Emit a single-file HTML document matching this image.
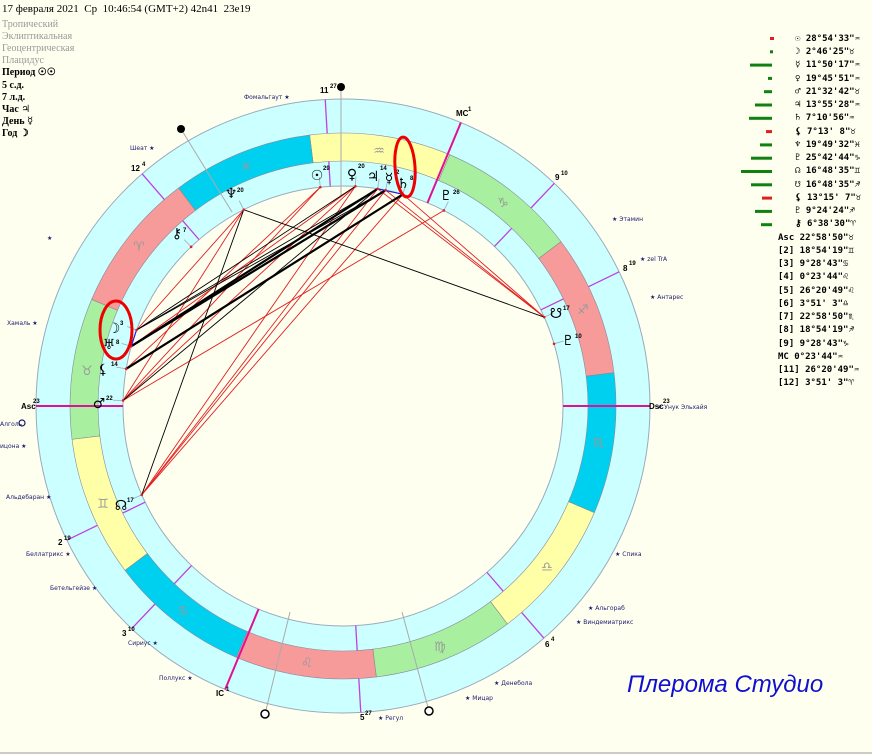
<!DOCTYPE html>
<html><head><meta charset="utf-8">
<style>
html,body{margin:0;padding:0;background:#fffff0;}
body{width:872px;height:755px;overflow:hidden;position:relative;font-family:"Liberation Serif","DejaVu Serif",serif;}
.t{position:absolute;left:2px;font-size:10px;line-height:12px;white-space:nowrap;}
.g{color:#999;}
.b{font-weight:bold;color:#000;}
svg{position:absolute;left:0;top:0;}
.sm{font-family:"Liberation Sans",sans-serif;font-size:6px;fill:#333;}
.hl{font-family:"Liberation Sans",sans-serif;font-size:8px;font-weight:bold;fill:#000;}
.sup{font-family:"Liberation Sans",sans-serif;font-size:6px;font-weight:bold;fill:#000;}
.pg{font-family:"DejaVu Sans",sans-serif;font-size:14px;fill:#000;}
.sg{font-family:"DejaVu Sans",sans-serif;font-size:13px;fill:#999;}
.st{fill:#1a1a6e;font-family:"DejaVu Sans",sans-serif;font-size:6px;}
.lst{font-family:"DejaVu Sans Mono","Liberation Mono",monospace;font-size:9px;font-weight:bold;fill:#000;}
</style></head><body>
<div class="t" style="top:3px;font-size:11px;">17 февраля 2021&nbsp; Ср&nbsp; 10:46:54 (GMT+2) 42n41&nbsp; 23e19</div>
<div class="t g" style="top:19px">Тропический</div>
<div class="t g" style="top:31px">Эклиптикальная</div>
<div class="t g" style="top:43px">Геоцентрическая</div>
<div class="t g" style="top:55px">Плацидус</div>
<div class="t b" style="top:67px">Период ☉☉</div>
<div class="t b" style="top:80px">5 с.д.</div>
<div class="t b" style="top:92px">7 л.д.</div>
<div class="t b" style="top:104px">Час ♃</div>
<div class="t b" style="top:116px">День ☿</div>
<div class="t b" style="top:128px">Год ☽</div>

<svg id="s" width="872" height="755" xmlns="http://www.w3.org/2000/svg">
<g id="geo"></g>
<!-- sign glyphs -->
<g class="sg" text-anchor="middle">
<text x="139" y="251">♈&#xFE0E;</text><text x="87" y="375">♉&#xFE0E;</text><text x="103" y="508">♊&#xFE0E;</text>
<text x="183" y="615">♋&#xFE0E;</text><text x="307" y="667">♌&#xFE0E;</text><text x="440" y="651">♍&#xFE0E;</text>
<text x="547" y="571">♎&#xFE0E;</text><text x="599" y="447">♏&#xFE0E;</text><text x="583" y="314">♐&#xFE0E;</text>
<text x="503" y="207">♑&#xFE0E;</text><text x="379" y="155">♒&#xFE0E;</text><text x="246" y="171">♓&#xFE0E;</text>
</g>
<!-- planet glyphs -->
<g class="pg" text-anchor="middle">
<text x="317" y="180">☉</text><text x="352" y="179">♀</text><text x="373" y="181">♃</text>
<text x="389" y="183">☿</text><text x="403" y="188">♄</text><text x="231" y="198">♆</text>
<text x="446" y="200">♇</text><text x="556" y="318">☋</text><text x="568" y="345">♇</text>
<text x="114" y="333">☽</text><text x="109" y="349">♅</text><text x="103" y="374">⚸</text>
<text x="99" y="408">♂</text><text x="121" y="510">☊</text><text x="177" y="238">⚷</text>
</g>
<g class="sup">
<text x="323" y="170">29</text><text x="358" y="168">20</text><text x="380" y="170">14</text><text x="396" y="174">2</text><text x="410" y="180">8</text>
<text x="237" y="192">20</text><text x="453" y="194">26</text><text x="563" y="310">17</text><text x="575" y="338">10</text>
<text x="120" y="325">3</text><text x="116" y="344">8</text><text x="111" y="366">14</text><text x="106" y="400">22</text>
<text x="127" y="502">17</text><text x="183" y="232">7</text>
</g>
<!-- house labels -->
<g class="hl">
<text x="320" y="93">11</text><text class="sup" x="330" y="88">27</text>
<text x="456" y="116">MC</text><text class="sup" x="468" y="111">1</text>
<text x="555" y="180">9</text><text class="sup" x="561" y="175">10</text>
<text x="623" y="271">8</text><text class="sup" x="629" y="265">19</text>
<text x="649" y="409">Dsc</text><text class="sup" x="663" y="403">23</text>
<text x="545" y="647">6</text><text class="sup" x="551" y="641">4</text>
<text x="360" y="720">5</text><text class="sup" x="365" y="715">27</text>
<text x="216" y="696">IC</text><text class="sup" x="226" y="691">1</text>
<text x="122" y="636">3</text><text class="sup" x="128" y="631">10</text>
<text x="58" y="545">2</text><text class="sup" x="64" y="540">19</text>
<text x="21" y="409">Asc</text><text class="sup" x="33" y="403">23</text>
<text x="131" y="171">12</text><text class="sup" x="142" y="166">4</text>
</g>
<!-- stars -->
<g class="st">
<text x="244" y="99">Фомальгаут ★</text><text x="130" y="150">Шеат ★</text><text x="47" y="240">★</text>
<text x="7" y="325">Хамаль ★</text><text x="0" y="426">Алголь</text><text x="0" y="448">ицона ★</text>
<text x="6" y="499">Альдебаран ★</text><text x="26" y="556">Беллатрикс ★</text><text x="50" y="590">Бетельгейзе ★</text>
<text x="128" y="645">Сириус ★</text><text x="159" y="680">Поллукс ★</text><text x="378" y="720">★ Регул</text>
<text x="465" y="700">★ Мицар</text><text x="494" y="685">★ Денебола</text><text x="576" y="624">★ Виндемиатрикс</text>
<text x="588" y="610">★ Альгораб</text><text x="615" y="556">★ Спика</text><text x="657" y="409">★ Унук Эльхайя</text>
<text x="650" y="299">★ Антарес</text><text x="612" y="221">★ Этамин</text><text x="640" y="261">★ zel TrA</text>
</g>
<circle cx="22" cy="423" r="3" fill="none" stroke="#1a1a6e" stroke-width="1.2"/>
<circle cx="341" cy="87" r="4" fill="#000"/><circle cx="181" cy="129" r="4" fill="#000"/>
<circle cx="265" cy="714" r="4" fill="#fff" stroke="#000" stroke-width="1.5"/><circle cx="429" cy="711" r="4" fill="#fff" stroke="#000" stroke-width="1.5"/>
<!-- red ellipses -->
<ellipse cx="116" cy="330" rx="16" ry="29" fill="none" stroke="#e00" stroke-width="3"/>
<ellipse cx="405" cy="167" rx="10" ry="30" fill="none" stroke="#e00" stroke-width="3" transform="rotate(-4 405 167)"/>
<text x="627" y="692" font-family="Liberation Sans,sans-serif" font-style="italic" font-size="24" fill="#1010d0">Плерома Студио</text>
<!-- list -->
<g id="list" class="lst">
<text x="795" y="41">☉ 28°54'33"♒</text><text x="795" y="54">☽  2°46'25"♉</text>
<text x="795" y="67">☿ 11°50'17"♒</text><text x="795" y="81">♀ 19°45'51"♒</text>
<text x="795" y="94">♂ 21°32'42"♉</text><text x="795" y="107">♃ 13°55'28"♒</text>
<text x="795" y="120">♄  7°10'56"♒</text><text x="795" y="134">⚸  7°13' 8"♉</text>
<text x="795" y="147">♆ 19°49'32"♓</text><text x="795" y="160">♇ 25°42'44"♑</text>
<text x="795" y="173">☊ 16°48'35"♊</text><text x="795" y="187">☋ 16°48'35"♐</text>
<text x="795" y="200">⚸ 13°15' 7"♉</text><text x="795" y="213">♇  9°24'24"♐</text>
<text x="795" y="226">⚷  6°38'30"♈</text><text x="778" y="240">Asc 22°58'50"♉</text>
<text x="778" y="253">[2] 18°54'19"♊</text><text x="778" y="266">[3]  9°28'43"♋</text>
<text x="778" y="279">[4]  0°23'44"♌</text><text x="778" y="293">[5] 26°20'49"♌</text>
<text x="778" y="306">[6]  3°51' 3"♎</text><text x="778" y="319">[7] 22°58'50"♏</text>
<text x="778" y="332">[8] 18°54'19"♐</text><text x="778" y="346">[9]  9°28'43"♑</text>
<text x="778" y="359">MC   0°23'44"♒</text><text x="778" y="372">[11] 26°20'49"♒</text>
<text x="778" y="385">[12]  3°51' 3"♈</text>
</g>
<g id="bars"></g>
<line x1="0" y1="753" x2="872" y2="753" stroke="#ccc" stroke-width="2"/>
</svg>
<script>
var cx=343,cy=406,AS=52.98,NS="http://www.w3.org/2000/svg";
var G=document.getElementById('geo');
function P(l,r){var t=(180+l-AS)*Math.PI/180;return [cx+r*Math.cos(t),cy-r*Math.sin(t)];}
function el(n,a,p){var e=document.createElementNS(NS,n);for(var k in a)e.setAttribute(k,a[k]);(p||G).appendChild(e);return e;}
el('circle',{cx:cx,cy:cy,r:307,fill:'#ccffff',stroke:'#99aabb','stroke-width':1});
var cols=['#f79a9a','#a8f0a0','#ffffa8','#00d0f0'];
for(var k=0;k<12;k++){var a=k*30,b=a+30,p1=P(a,273),p2=P(b,273),p3=P(b,245),p4=P(a,245);
el('path',{d:'M'+p1+' A273 273 0 0 0 '+p2+' L'+p3+' A245 245 0 0 1 '+p4+'Z',fill:cols[k%4],stroke:'#889',"stroke-width":0.6});}
el('circle',{cx:cx,cy:cy,r:220,fill:'#fffff0',stroke:'#99aabb','stroke-width':1});
var cusps=[52.98,78.9,99.47,120.4,146.3,183.85,232.98,258.9,279.47,300.4,326.3,3.85];
cusps.forEach(function(c,i){if(i%3==0){var a=P(c,220),b=P(c,307);el('line',{x1:a[0],y1:a[1],x2:b[0],y2:b[1],stroke:'#e0109a','stroke-width':2});}
else{[[220,245],[273,307]].forEach(function(rr){var a=P(c,rr[0]),b=P(c,rr[1]);el('line',{x1:a[0],y1:a[1],x2:b[0],y2:b[1],stroke:'#c040e0','stroke-width':1.3});});}});
// grey star lines
[[[341,87],[341,196]],[[181,129],[232,212]],[[265,714],[290,612]],[[429,711],[402,612]]].forEach(function(s){el('line',{x1:s[0][0],y1:s[0][1],x2:s[1][0],y2:s[1][1],stroke:'#aaa','stroke-width':1});});
var pl={Su:328.9,Mo:32.77,Me:311.8,Ve:319.76,Ma:51.54,Ju:313.92,Sa:307.18,Ur:37.22,Ne:349.8,Pl:295.7,No:76.8,SN:256.8,Li:43.25,Pr:249.4,Ch:6.64};
for(var n in pl){var a=P(pl[n],220),b=P(pl[n],230);el('line',{x1:a[0],y1:a[1],x2:b[0],y2:b[1],stroke:'#99aabb','stroke-width':0.8});}
function L(a,b,c,w){var p=P(pl[a],220),q=P(pl[b],220);el('line',{x1:p[0],y1:p[1],x2:q[0],y2:q[1],stroke:c,'stroke-width':w});}
var R='#e02020',K='#000';
[['Su','Ma'],['Su','Li'],['Ve','Ma'],['Ve','No'],['Ne','Ma'],['Ne','Mo'],['Ju','No'],['Me','No'],['Sa','No'],['Pl','Ma'],['Ju','SN'],['Me','SN'],['Sa','SN'],['Ve','Ur']].forEach(function(x){L(x[0],x[1],R,0.9);});
[['Ne','SN'],['Ne','No'],['Ju','Mo'],['Me','Mo'],['Ju','Ma'],['Ve','Mo']].forEach(function(x){L(x[0],x[1],K,0.9);});
[['Ju','Ur'],['Me','Ur'],['Sa','Li']].forEach(function(x){L(x[0],x[1],K,2.2);});
L('Mo','Ur','#2020e0',1.2);L('Ju','Sa','#2020e0',1.2);
for(var n in pl){var a=P(pl[n],220);el('circle',{cx:a[0],cy:a[1],r:1.3,fill:'#e02020'});}
var B=document.getElementById('bars');
var bars=[[770,'r',4],[770,'g',3],[750,'g',22],[768,'g',4],[764,'g',8],[755,'g',17],[749,'g',23],[766,'r',6],[760,'g',12],[751,'g',21],[741,'g',31],[751,'g',21],[762,'r',10],[755,'g',17],[761,'g',11]];
bars.forEach(function(b,i){el('rect',{x:b[0],y:37+i*13.3,width:b[2],height:3,fill:b[1]=='r'?'#e02020':'#108010'},B);});
</script>
</body></html>
